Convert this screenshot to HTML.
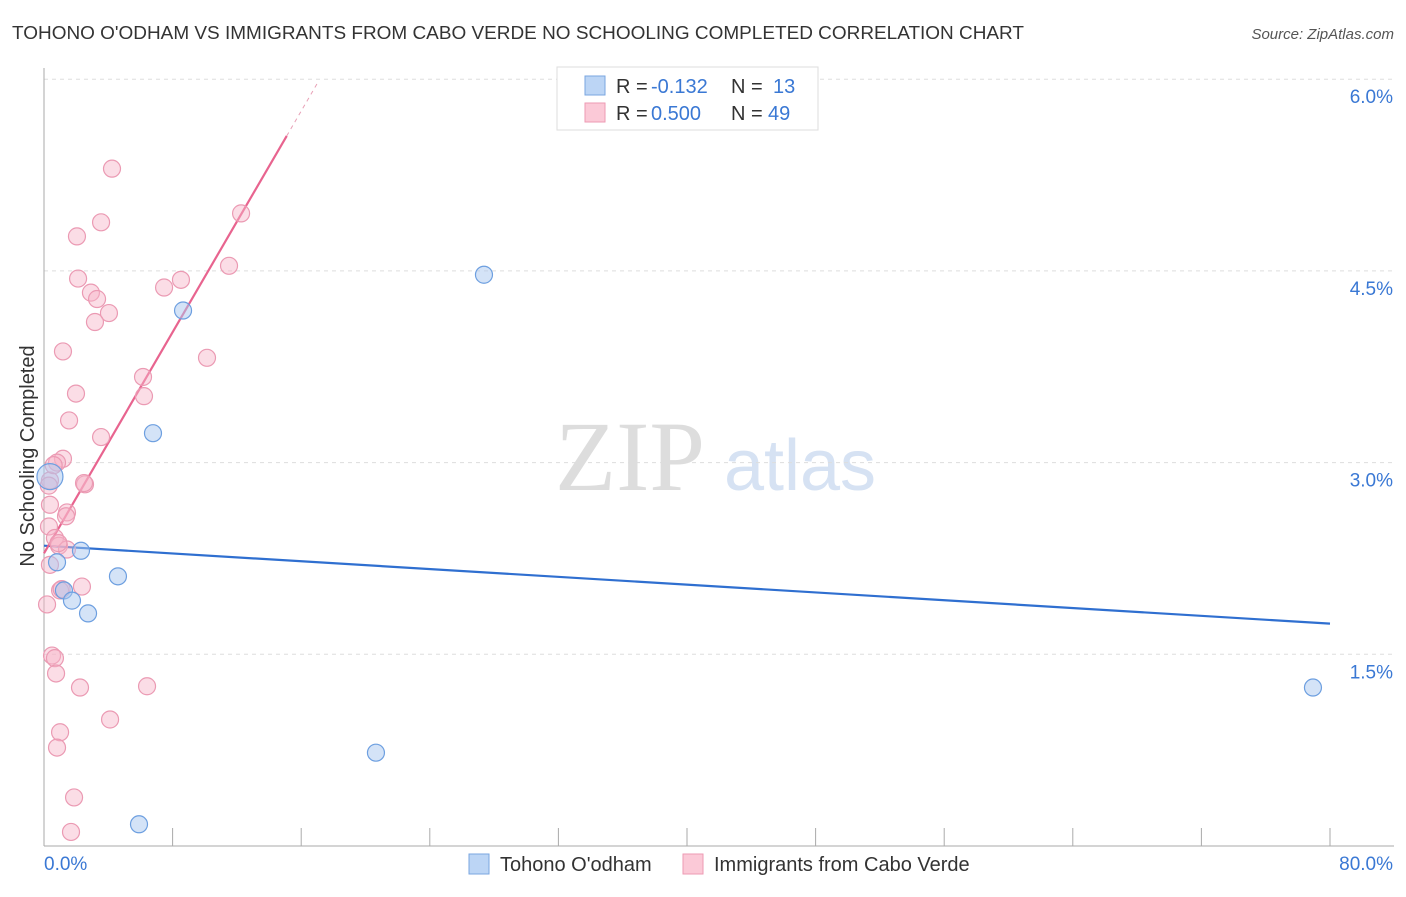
<!DOCTYPE html>
<html><head><meta charset="utf-8"><style>
body{margin:0;background:#fff;font-family:"Liberation Sans",sans-serif;}
svg text{font-family:"Liberation Sans",sans-serif;}
</style></head><body>
<svg width="1406" height="892" xmlns="http://www.w3.org/2000/svg">
<text x="12" y="39" font-size="18" fill="#333" textLength="1012" lengthAdjust="spacingAndGlyphs">TOHONO O'ODHAM VS IMMIGRANTS FROM CABO VERDE NO SCHOOLING COMPLETED CORRELATION CHART</text>
<text x="1394" y="39" font-size="15" fill="#555" font-style="italic" text-anchor="end">Source: ZipAtlas.com</text>
<text x="630" y="490" font-size="100" fill="#ddd" text-anchor="middle" style="font-family:'Liberation Serif',serif">ZIP</text>
<text x="800" y="490" font-size="72" fill="#d6e2f3" text-anchor="middle">atlas</text>
<g id="grid"></g>
<g id="axes"></g>
<text x="34" y="456" font-size="20" fill="#333" text-anchor="middle" transform="rotate(-90 34 456)">No Schooling Completed</text>
<g id="lines"></g>
<g id="pts"></g>
<g>
<rect x="557" y="67" width="261" height="63" fill="#fff" stroke="#ddd"/>
<rect x="585" y="76" width="20" height="19" fill="#bcd5f5" stroke="#7aa6e0"/>
<rect x="585" y="103" width="20" height="19" fill="#fbc9d7" stroke="#ee9ab3"/>
<text x="616" y="93" font-size="20" fill="#333">R =</text>
<text x="651" y="93" font-size="20" fill="#3a78d4">-0.132</text>
<text x="731" y="93" font-size="20" fill="#333">N =</text>
<text x="773" y="93" font-size="20" fill="#3a78d4">13</text>
<text x="616" y="120" font-size="20" fill="#333">R =</text>
<text x="651" y="120" font-size="20" fill="#3a78d4">0.500</text>
<text x="731" y="120" font-size="20" fill="#333">N =</text>
<text x="768" y="120" font-size="20" fill="#3a78d4">49</text>
</g>
<g>
<rect x="469" y="854" width="20" height="20" fill="#bcd5f5" stroke="#7aa6e0"/>
<text x="500" y="871" font-size="20" fill="#333">Tohono O'odham</text>
<rect x="683" y="854" width="20" height="20" fill="#fbc9d7" stroke="#ee9ab3"/>
<text x="714" y="871" font-size="20" fill="#333">Immigrants from Cabo Verde</text>
</g>
</svg>
<script>
const blueX=[0.37,0.81,1.24,1.74,2.30,2.74,4.60,6.78,8.65,27.37,20.65,5.91,78.94];
const blueY=[2.89,2.22,2.00,1.92,2.31,1.82,2.11,3.23,4.19,4.47,0.73,0.17,1.24];
const pinkX=[4.23,3.55,2.05,12.26,11.51,2.12,8.52,7.47,2.92,3.30,4.04,3.17,1.18,10.14,6.16,1.99,6.22,1.56,3.55,1.18,0.81,0.37,2.55,2.49,1.43,1.37,0.37,0.31,0.68,0.93,1.43,0.37,2.36,1.0,0.19,0.50,0.68,0.75,2.24,6.41,4.11,1.0,0.81,1.87,1.68,0.6,0.9,0.3,1.1];
const pinkY=[5.30,4.88,4.77,4.95,4.54,4.44,4.43,4.37,4.33,4.28,4.17,4.10,3.87,3.82,3.67,3.54,3.52,3.33,3.20,3.03,3.00,2.86,2.83,2.84,2.61,2.58,2.67,2.50,2.41,2.35,2.32,2.20,2.03,2.0,1.89,1.49,1.47,1.35,1.24,1.25,0.99,0.89,0.77,0.38,0.11,2.98,2.37,2.82,2.01];
const yTicks=[1.5,3.0,4.5,6.0];
const xTickLabels=["0.0%","80.0%"];
const blueTrend=[2.35,1.74];
const pinkTrend={intercept:2.29,slope:0.2163,solidEnd:15.1,dashEnd:17.0};
const NS="http://www.w3.org/2000/svg";
const X=v=>44+v*1286/80, Y=v=>846-v*191.7/1.5;
function mk(t,a,p){const e=document.createElementNS(NS,t);for(const k in a)e.setAttribute(k,a[k]);p.appendChild(e);return e;}
const grid=document.getElementById('grid'),axes=document.getElementById('axes');
yTicks.forEach(t=>{const l=mk('line',{x1:44,x2:1394,y1:Y(t),y2:Y(t),stroke:'#ddd','stroke-dasharray':'4,4'},grid);


const tx=mk('text',{x:1393,y:Y(t)+24,'font-size':19,fill:'#3a78d4','text-anchor':'end'},axes);tx.textContent=t.toFixed(1)+'%';

});
mk('line',{x1:44,x2:44,y1:68,y2:846,stroke:'#aaa'},axes);
mk('line',{x1:44,x2:1394,y1:846,y2:846,stroke:'#aaa'},axes);
for(let i=0;i<=10;i++){const l=mk('line',{x1:X(i*8),x2:X(i*8),y1:828,y2:846,stroke:'#aaa'},axes);

}
[[0,44,'start'],[80,1393,'end']].forEach((d,i)=>{const t=mk('text',{x:d[1],y:870,'font-size':19,fill:'#3a78d4','text-anchor':d[2]},axes);t.textContent=xTickLabels[i];

});
const lines=document.getElementById('lines');
const bl=mk('line',{x1:X(0),y1:Y(blueTrend[0]),x2:X(80),y2:Y(blueTrend[1]),stroke:'#2f6fd0','stroke-width':2.2},lines);


const pf=v=>pinkTrend.intercept+pinkTrend.slope*v;
const pl=mk('line',{x1:X(0),y1:Y(pf(0)),x2:X(pinkTrend.solidEnd),y2:Y(pf(pinkTrend.solidEnd)),stroke:'#e8648f','stroke-width':2.2},lines);


const pd=mk('line',{x1:X(pinkTrend.solidEnd),y1:Y(pf(pinkTrend.solidEnd)),x2:X(pinkTrend.dashEnd),y2:Y(pf(pinkTrend.dashEnd)),stroke:'#e8a0b6','stroke-width':1,'stroke-dasharray':'4,4'},lines);


const pts=document.getElementById('pts');
pinkX.forEach((x,i)=>{const c=mk('circle',{cx:X(x),cy:Y(pinkY[i]),r:8.5,fill:'rgba(247,180,200,0.45)',stroke:'#eb9ab3','stroke-width':1.2},pts);

});
blueX.forEach((x,i)=>{const c=mk('circle',{cx:X(x),cy:Y(blueY[i]),r:i==0?13:8.5,fill:'rgba(170,200,240,0.5)',stroke:'#6d9fe0','stroke-width':1.2},pts);

});
</script>
</body></html>
